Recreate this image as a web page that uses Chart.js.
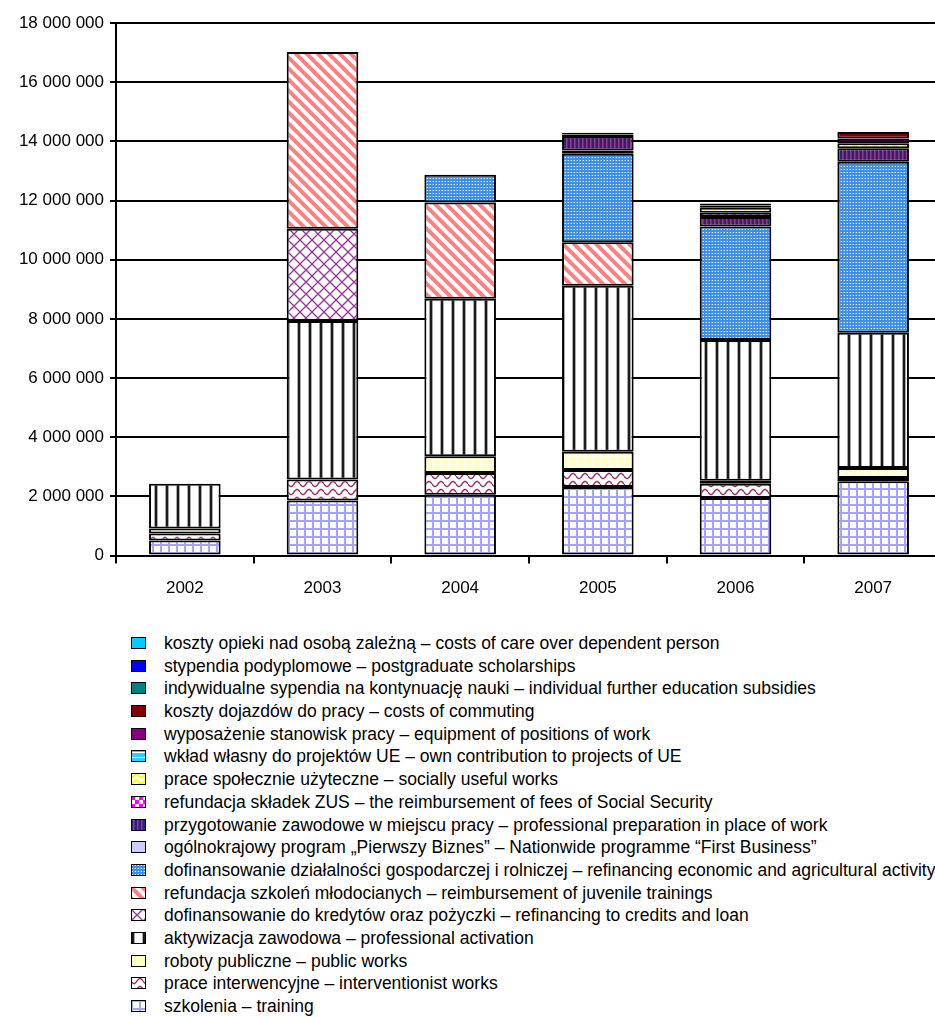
<!DOCTYPE html>
<html>
<head>
<meta charset="utf-8">
<script src="https://cdn.jsdelivr.net/npm/chart.js@4"></script>
<style>
  body { margin: 0; background: #fff; overflow: hidden; width: 935px; height: 1017px; position: relative; }
  #chart { position: absolute; left: 0; top: 0; }
  #legend { position: absolute; left: 0; top: 632px; font-family: 'Liberation Sans', Arial, sans-serif; font-size: 17.5px; color: #000; }
  .row { position: relative; height: 22.7px; line-height: 22.7px; white-space: nowrap; }
  .row canvas { position: absolute; left: 131px; top: 5px; }
  .row span { position: absolute; left: 164px; }
</style>
</head>
<body>
<canvas id="chart" width="945" height="617"></canvas>
<div id="legend"></div>
<script>
// --- data (PLN), bottom of stack first ---
const years = ['2002', '2003', '2004', '2005', '2006', '2007'];

const szkolenia      = [510000, 1860000, 2060000, 2320000, 1950000, 2510000];
const interwencyjne  = [240000,  710000,  730000,  570000,  480000,  110000];
const roboty         = [170000,       0,  570000,  620000,  100000,  340000];
const aktywizacja    = [1510000, 5360000, 5320000, 5610000, 4760000, 4570000];
const kredyty        = [     0, 3120000,       0,       0,       0,       0];
const mlodociani     = [     0, 5970000, 3250000, 1470000,       0,       0];
const dzialalnosc    = [     0,       0,  940000, 2990000, 3830000, 5780000];
const pierwszyBiznes = [     0,       0,       0,  110000,       0,       0];
const przygotowanie  = [     0,       0,       0,  490000,  320000,  460000];
const zus            = [     0,       0,       0,   50000,  150000,       0];
const spoleczne      = [     0,       0,       0,       0,  170000,  170000];
const wklad          = [     0,       0,       0,       0,       0,       0];
const wyposazenie    = [     0,       0,       0,   60000,   70000,  160000];
const dojazdy        = [     0,       0,       0,       0,   70000,  220000];
const indywidualne   = [     0,       0,       0,       0,       0,       0];
const podyplomowe    = [     0,       0,       0,       0,       0,       0];
const opieka         = [     0,       0,       0,       0,       0,       0];

const yTicks = [0, 2000000, 4000000, 6000000, 8000000, 10000000, 12000000, 14000000, 16000000, 18000000];

// --- fill patterns ---
function pattern(w, h, draw) {
    const c = document.createElement('canvas');
    c.width = w; c.height = h;
    const g = c.getContext('2d');
    g.fillStyle = '#fff';
    g.fillRect(0, 0, w, h);
    draw(g, w, h);
    return g.createPattern(c, 'repeat');
}
function solid(col) {
    return pattern(4, 4, g => { g.fillStyle = col; g.fillRect(0, 0, 4, 4); });
}

const pGrid = pattern(8, 8, g => {
    g.fillStyle = '#a3a3ff';
    g.fillRect(0, 0, 8, 2);
    g.fillRect(0, 0, 2, 8);
});
const pWave = pattern(12, 8, g => {
    g.strokeStyle = '#993366';
    g.lineWidth = 1.5;
    g.beginPath();
    for (let x = 0; x <= 12; x += 0.5) {
        const y = 4 + 2.5 * Math.sin(x / 12 * Math.PI * 2);
        if (x === 0) g.moveTo(x, y); else g.lineTo(x, y);
    }
    g.stroke();
});
const pPublic = pattern(8, 8, g => {
    g.fillStyle = '#ffffc4';
    g.fillRect(0, 0, 8, 8);
    g.fillStyle = '#fffff0';
    g.fillRect(0, 0, 8, 1);
    g.fillRect(0, 0, 1, 8);
});
const pVert = pattern(11, 4, g => {
    g.fillStyle = '#a8a8a8';
    g.fillRect(0, 0, 4, 4);
    g.fillStyle = '#1a1a1a';
    g.fillRect(1, 0, 2, 4);
});
const pLattice = pattern(12, 12, g => {
    g.strokeStyle = '#993399';
    g.lineWidth = 1.3;
    g.beginPath();
    g.moveTo(0, 0); g.lineTo(12, 12);
    g.moveTo(12, 0); g.lineTo(0, 12);
    g.stroke();
});
const pDiag = pattern(11, 11, g => {
    g.strokeStyle = '#ff8080';
    g.lineWidth = 4;
    g.beginPath();
    g.moveTo(-2, -2); g.lineTo(13, 13);
    g.moveTo(-2, 9); g.lineTo(2, 13);
    g.moveTo(9, -2); g.lineTo(13, 2);
    g.stroke();
});
const pDots = pattern(3, 3, g => {
    g.fillStyle = '#3f8fe4';
    g.fillRect(0, 0, 3, 3);
    g.fillStyle = '#e8f2fd';
    g.fillRect(1, 1, 1, 1);
    g.fillStyle = '#7fb6ef';
    g.fillRect(0, 1, 1, 1);
});
const pPrep = pattern(4, 4, g => {
    g.fillStyle = '#2b1f80';
    g.fillRect(0, 0, 4, 4);
    g.fillStyle = '#9b3c7a';
    g.fillRect(2, 0, 1.5, 4);
});
const pChecker = pattern(8, 8, g => {
    g.fillStyle = '#ff00ff';
    g.fillRect(0, 0, 4, 4);
    g.fillRect(4, 4, 4, 4);
});
const pZigzag = pattern(10, 6, g => {
    g.strokeStyle = '#ffff00';
    g.lineWidth = 2;
    g.beginPath();
    g.moveTo(0, 5); g.lineTo(5, 1); g.lineTo(10, 5);
    g.stroke();
});
const pHoriz = pattern(4, 5, g => {
    g.fillStyle = '#33ccff';
    g.fillRect(0, 0, 4, 5);
    g.fillStyle = '#ffffff';
    g.fillRect(0, 2, 4, 1);
});

const series = [
    { label: 'szkolenia – training', data: szkolenia, fill: pGrid },
    { label: 'prace interwencyjne – interventionist works', data: interwencyjne, fill: pWave },
    { label: 'roboty publiczne – public works', data: roboty, fill: pPublic },
    { label: 'aktywizacja zawodowa – professional activation', data: aktywizacja, fill: pVert },
    { label: 'dofinansowanie do kredytów oraz pożyczki – refinancing to credits and loan', data: kredyty, fill: pLattice },
    { label: 'refundacja szkoleń młodocianych – reimbursement of juvenile trainings', data: mlodociani, fill: pDiag },
    { label: 'dofinansowanie działalności gospodarczej i rolniczej – refinancing economic and agricultural activity', data: dzialalnosc, fill: pDots },
    { label: 'ogólnokrajowy program „Pierwszy Biznes” – Nationwide programme “First Business”', data: pierwszyBiznes, fill: solid('#ccccff') },
    { label: 'przygotowanie zawodowe w miejscu pracy – professional preparation in place of work', data: przygotowanie, fill: pPrep },
    { label: 'refundacja składek ZUS – the reimbursement of fees of Social Security', data: zus, fill: pChecker },
    { label: 'prace społecznie użyteczne – socially useful works', data: spoleczne, fill: pZigzag },
    { label: 'wkład własny do projektów UE – own contribution to projects of UE', data: wklad, fill: pHoriz },
    { label: 'wyposażenie stanowisk pracy – equipment of positions of work', data: wyposazenie, fill: solid('#800080') },
    { label: 'koszty dojazdów do pracy – costs of commuting', data: dojazdy, fill: solid('#800000') },
    { label: 'indywidualne sypendia na kontynuację nauki – individual further education subsidies', data: indywidualne, fill: solid('#008080') },
    { label: 'stypendia podyplomowe – postgraduate scholarships', data: podyplomowe, fill: solid('#0000ff') },
    { label: 'koszty opieki nad osobą zależną – costs of care over dependent person', data: opieka, fill: solid('#00ccff') }
];

const font = { family: "'Liberation Sans', Arial, sans-serif", size: 17 };
const fmt = v => String(v).replace(/\B(?=(\d{3})+(?!\d))/g, ' ');

new Chart(document.getElementById('chart'), {
    type: 'bar',
    data: {
        labels: years,
        datasets: series.map(s => ({
            label: s.label,
            data: s.data,
            backgroundColor: s.fill,
            borderColor: '#000',
            borderWidth: 2,
            borderSkipped: false,
            categoryPercentage: 1,
            barPercentage: 0.52
        }))
    },
    options: {
        responsive: false,
        animation: false,
        layout: { padding: { top: 23, right: 3, bottom: 3, left: 0 } },
        plugins: { legend: { display: false }, tooltip: { enabled: false } },
        scales: {
            x: {
                stacked: true,
                grid: { drawOnChartArea: false, color: '#000', lineWidth: 2, tickLength: 8 },
                border: { color: '#000', width: 2 },
                ticks: { color: '#000', font: font, padding: 15 }
            },
            y: {
                stacked: true,
                min: 0,
                max: 18000000,
                afterFit: scale => { scale.width = 116; },
                afterBuildTicks: scale => { scale.ticks = yTicks.map(v => ({ value: v })); },
                grid: { color: '#000', lineWidth: 2, tickLength: 6 },
                border: { color: '#000', width: 2 },
                ticks: { color: '#000', font: font, padding: 6, callback: v => fmt(v) }
            }
        }
    }
});

// --- legend: top of the stack first ---
const legend = document.getElementById('legend');
series.slice().reverse().forEach(s => {
    const row = document.createElement('div');
    row.className = 'row';
    const sw = document.createElement('canvas');
    sw.width = 15; sw.height = 12;
    const g = sw.getContext('2d');
    g.fillStyle = s.fill;
    g.fillRect(0, 0, 15, 12);
    g.strokeStyle = '#000';
    g.lineWidth = 1;
    g.strokeRect(0.5, 0.5, 14, 11);
    const txt = document.createElement('span');
    txt.textContent = s.label;
    row.appendChild(sw);
    row.appendChild(txt);
    legend.appendChild(row);
});
</script>
</body>
</html>
